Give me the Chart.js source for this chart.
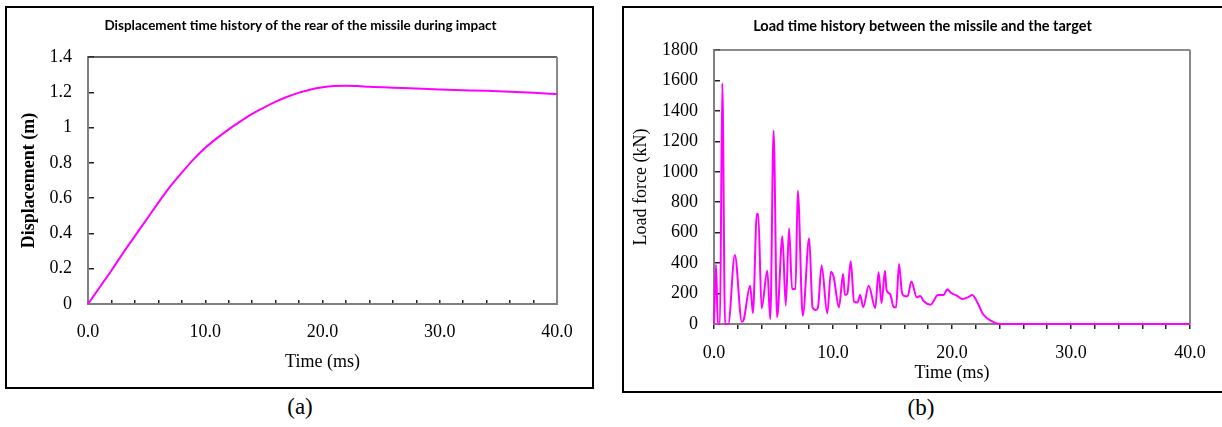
<!DOCTYPE html>
<html>
<head>
<meta charset="utf-8">
<script src="https://cdn.jsdelivr.net/npm/chart.js@4.4.1/dist/chart.umd.min.js"></script>
<style>
  body { margin: 0; background: #fff; width: 1222px; height: 427px; overflow: hidden; position: relative; }
  .box { position: absolute; border: 2px solid #000; box-sizing: border-box; }
  canvas { position: absolute; }
  .cap { position: absolute; font-family: 'Liberation Serif', serif; font-size: 23px; color: #000; transform: translate(-50%, -50%); }
</style>
</head>
<body>
<div class="box" style="left:5px; top:6px; width:589px; height:383px;"></div>
<div class="box" style="left:622px; top:6px; width:620px; height:387px;"></div>
<canvas id="chartA" width="587" height="379" style="left:7px; top:8px;"></canvas>
<canvas id="chartB" width="597" height="383" style="left:625px; top:8px;"></canvas>
<div class="cap" style="left:300px; top:407px;">(a)</div>
<div class="cap" style="left:921px; top:408px;">(b)</div>
<script>
// (a) displacement of the missile rear, time in ms, displacement in m
const dispTime = [0, 1, 2, 3, 4, 5, 6, 7, 8, 9, 10, 11, 12, 13, 14, 15, 16, 17, 18, 19, 20, 21, 22, 23, 24, 26, 28, 30, 32, 34, 36, 38, 40];
const dispValue = [0, 0.095, 0.19, 0.29, 0.385, 0.48, 0.575, 0.665, 0.745, 0.82, 0.885, 0.94, 0.99, 1.035, 1.077, 1.113, 1.147, 1.175, 1.198, 1.216, 1.228, 1.235, 1.237, 1.235, 1.231, 1.226, 1.222, 1.216, 1.212, 1.208, 1.203, 1.197, 1.19];

// (b) contact load, time in ms, force in kN
const loadTime = [0, 0.17, 0.32, 0.5, 0.7, 0.93, 1.2, 1.75, 2.34, 2.5, 3.04, 3.27, 3.6, 3.72, 4.0, 4.48, 4.73, 5.01, 5.3, 5.75, 6.03, 6.31, 6.56, 6.85, 7.04, 7.46, 8.0, 8.28, 8.54, 8.73, 9.04, 9.52, 9.83, 10.06, 10.5, 10.85, 11.0, 11.2, 11.49, 11.77, 12.06, 12.28, 12.54, 13.0, 13.55, 13.83, 14.08, 14.37, 14.5, 14.8, 15.1, 15.3, 15.55, 15.8, 16.08, 16.28, 16.59, 17.04, 17.32, 17.63, 18.2, 18.82, 19.3, 19.6, 19.94, 20.5, 20.85, 21.35, 21.7, 22.2, 22.6, 23.27, 24.03, 40];
const loadForce = [0, 390, 0, 0, 1582, 0, 0, 453, 15, 30, 252, 72, 723, 723, 103, 350, 33, 1270, 44, 576, 120, 629, 230, 230, 876, 55, 563, 110, 92, 105, 385, 70, 344, 307, 110, 329, 190, 197, 412, 147, 142, 190, 110, 252, 105, 340, 138, 350, 223, 197, 110, 110, 394, 204, 182, 185, 280, 175, 184, 149, 127, 190, 190, 228, 204, 182, 164, 175, 190, 131, 66, 22, 0, 0];

const titleA = 'Displacement time history of the rear of the missile during impact';
const titleB = 'Load time history between the missile and the target';

const serif = 'Liberation Serif';
const tickFont = { family: serif, size: 18, lineHeight: 1.2 };

// top and right edges of the plot area
const frame = {
  id: 'frame',
  beforeDatasetsDraw(chart, args, opts) {
    const { ctx, chartArea: { left, top, right, bottom } } = chart;
    ctx.save();
    ctx.strokeStyle = opts.topColor;
    ctx.lineWidth = 1.5;
    ctx.beginPath();
    ctx.moveTo(left, top);
    ctx.lineTo(right, top);
    ctx.stroke();
    ctx.strokeStyle = '#888';
    ctx.lineWidth = 2;
    ctx.beginPath();
    ctx.moveTo(right, top);
    ctx.lineTo(right, bottom);
    ctx.stroke();
    ctx.restore();
  }
};

function makeChart(id, cfg) {
  const points = cfg.xs.map((t, i) => ({ x: t, y: cfg.ys[i] }));
  return new Chart(document.getElementById(id), {
    type: 'line',
    data: {
      datasets: [{
        data: points,
        borderColor: '#ff00ff',
        borderWidth: 2,
        pointRadius: 0,
        tension: 0.4,
        cubicInterpolationMode: 'monotone',
        clip: 4
      }]
    },
    options: {
      responsive: false,
      animation: false,
      layout: { padding: { left: 0, right: cfg.padRight, top: 0, bottom: 0 } },
      plugins: {
        legend: { display: false },
        tooltip: { enabled: false },
        frame: { topColor: cfg.topColor },
        title: {
          display: true,
          text: cfg.title,
          color: '#000',
          font: { family: 'Lato', size: cfg.titleSize, weight: 'bold', lineHeight: 1.2 },
          padding: cfg.titlePad
        }
      },
      scales: {
        x: {
          type: 'linear',
          min: 0,
          max: 40,
          ticks: {
            stepSize: 2,
            autoSkip: false,
            maxRotation: 0,
            padding: cfg.xTickPad,
            color: '#000',
            font: tickFont,
            callback: v => (v % 10 === 0 ? v.toFixed(1) : '')
          },
          grid: { drawOnChartArea: false, tickLength: cfg.xTickLen, color: '#222', lineWidth: 1.5 },
          border: { color: '#808080', width: 2 },
          title: { display: true, text: 'Time (ms)', color: '#000', font: tickFont, padding: { top: 0, bottom: cfg.xTitlePad } },
          afterFit: s => { s.height = cfg.xHeight; }
        },
        y: {
          min: 0,
          max: cfg.yMax,
          ticks: {
            stepSize: cfg.yStep,
            padding: 22,
            color: '#000',
            font: tickFont,
            callback: v => String(+v.toFixed(1))
          },
          grid: { drawOnChartArea: false, tickLength: -6, color: '#222', lineWidth: 1.5 },
          border: { color: '#808080', width: 2 },
          title: { display: true, text: cfg.yTitle, color: '#000', font: { family: serif, size: 18, lineHeight: 1.2, weight: cfg.yBold ? 'bold' : 'normal' }, padding: { top: cfg.yTitlePad, bottom: 0 } },
          afterFit: s => { s.width = cfg.yWidth; }
        },
        spacer: {
          type: 'linear',
          position: 'right',
          display: true,
          grid: { display: false },
          ticks: { display: false },
          border: { display: false },
          afterFit: s => { s.width = cfg.spacer; }
        }
      }
    },
    plugins: [frame]
  });
}

makeChart('chartA', {
  xs: dispTime, ys: dispValue, title: titleA, titleSize: 13.5, yTitle: 'Displacement (m)', yBold: true,
  yMax: 1.4, yStep: 0.2, padRight: 0, spacer: 25, yWidth: 81, xHeight: 83,
  titlePad: { top: 9.4, bottom: 23.4 }, xTickPad: 21.2, xTickLen: -4, xTitlePad: 13.5, yTitlePad: 11.2,
  topColor: '#333'
});

makeChart('chartB', {
  xs: loadTime, ys: loadForce, title: titleB, titleSize: 14.5, yTitle: 'Load force (kN)', yBold: false,
  yMax: 1800, yStep: 200, padRight: 2, spacer: 30, yWidth: 89, xHeight: 67,
  titlePad: { top: 9.8, bottom: 14.8 }, xTickPad: 13.9, xTickLen: 5, xTitlePad: 7.2, yTitlePad: 5.2,
  topColor: '#666'
});
</script>
</body>
</html>
